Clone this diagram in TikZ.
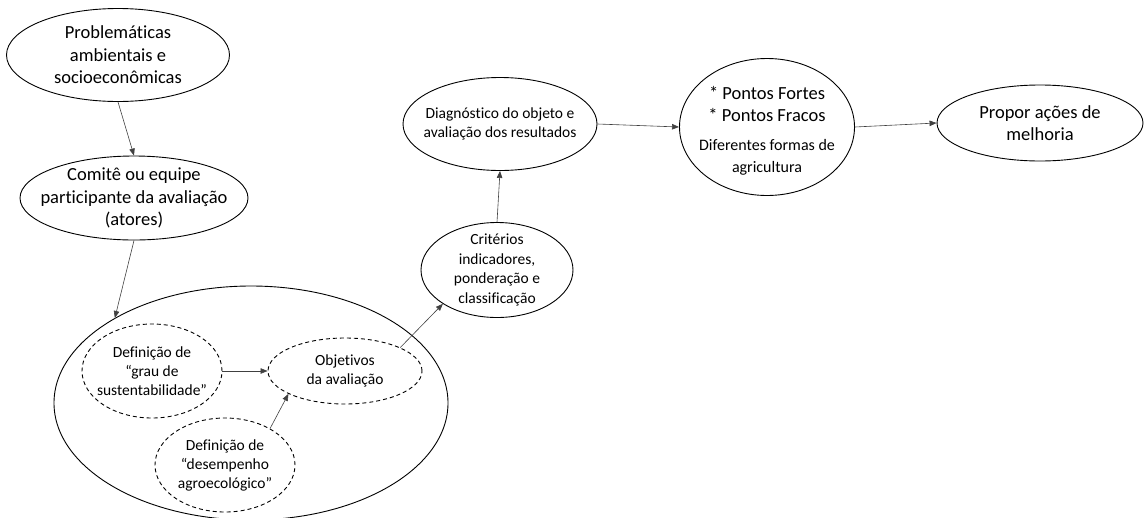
\documentclass[tikz,border=0pt]{standalone}
\usepackage{fontspec}
\setmainfont{Carlito}[Ligatures={NoCommon}]
\usetikzlibrary{shapes.geometric,arrows.meta}
\tikzset{
  oval/.style={ellipse, draw=black, line width=0.9pt, inner sep=-40pt, align=center,
     font=\fontsize{18.5}{22.5}\selectfont},
  dashoval/.style={ellipse, draw=black, line width=0.9pt, dashed, dash pattern=on 4pt off 3pt,
     inner sep=-40pt, align=center, font=\fontsize{15.5}{19}\selectfont},
  smalloval/.style={oval, font=\fontsize{15.5}{19.5}\selectfont},
  plaintext/.style={inner sep=0pt, align=center},
  arr/.style={draw=black!75, line width=0.6pt, -{Triangle[length=7pt,width=5.5pt]}},
}
\begin{document}
\begin{tikzpicture}[x=1pt,y=-1pt]
\useasboundingbox (0,0) rectangle (1145,517);
\node[oval, minimum width=223pt, minimum height=93pt] (prob) at (118,55)
  {Problemáticas\\ambientais e\\socioeconômicas};
\node[oval, minimum width=228pt, minimum height=84pt] (comite) at (134,198)
  {Comitê ou equipe\\participante da avaliação\\(atores)};
\node[ellipse, draw=black, line width=0.9pt, minimum width=394pt, minimum height=234pt] (big) at (251,403) {};
\node[dashoval, minimum width=140pt, minimum height=94pt] (grau) at (152,371)
  {Definição de\\“grau de\\sustentabilidade”};
\node[dashoval, minimum width=154pt, minimum height=66pt] (obj) at (345,371)
  {Objetivos\\da avaliação};
\node[dashoval, minimum width=140pt, minimum height=94pt] (desemp) at (225,465)
  {Definição de\\“desempenho\\agroecológico”};
\node[smalloval, minimum width=152pt, minimum height=95pt] (crit) at (497,270)
  {Critérios\\indicadores,\\ponderação e\\classificação};
\node[smalloval, minimum width=194pt, minimum height=93pt] (diag) at (500,124)
  {Diagnóstico do objeto e\\avaliação dos resultados};
\node[oval, minimum width=175pt, minimum height=137pt] (pontos) at (767,127) {};
\node[plaintext, font=\fontsize{18.5}{22.5}\selectfont] (pontostxt) at (767,131)
  {* Pontos Fortes\\* Pontos Fracos\\[6pt]{\fontsize{16}{18}\selectfont Diferentes formas de}\\{\fontsize{16}{18}\selectfont agricultura}};
\node[oval, minimum width=206pt, minimum height=76pt] (propor) at (1040,123)
  {Propor ações de\\melhoria};

\draw[arr] (prob.south) -- (comite.north);
\draw[arr] (comite.south) -- (big.148);
\draw[arr] (grau.east) -- (obj.west);
\draw[arr] (desemp.39) -- (obj.202);
\draw[arr] (obj.23) -- (crit.212);
\draw[arr] (crit.north) -- (diag.south);
\draw[arr] (diag.east) -- (pontos.west);
\draw[arr] (pontos.east) -- (propor.west);
\end{tikzpicture}
\end{document}
